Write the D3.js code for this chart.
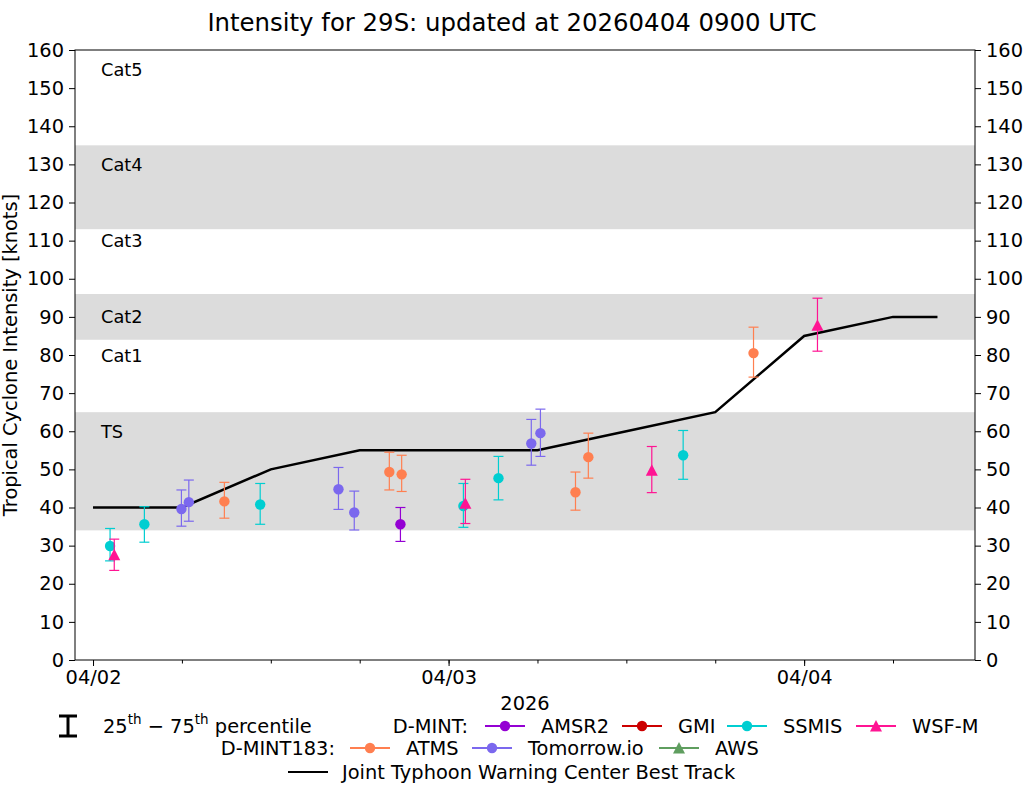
<!DOCTYPE html>
<html>
<head>
<meta charset="utf-8">
<script src="https://cdn.jsdelivr.net/npm/d3@7/dist/d3.min.js"></script>
<style>
  body { margin: 0; background: #fff; }
  svg text { font-family: "DejaVu Sans", sans-serif; fill: #000; }
</style>
</head>
<body>
<svg id="chart" width="1025" height="785"></svg>
<script>
// ---------------- DATA ----------------
const titleText = "Intensity for 29S: updated at 20260404 0900 UTC";
const yTicks = [0,10,20,30,40,50,60,70,80,90,100,110,120,130,140,150,160];
const xTickLabels = ["04/02", "04/03", "04/04"];
const xTickDates = ["2026-04-02T00:00Z", "2026-04-03T00:00Z", "2026-04-04T00:00Z"];

// intensity bands
const bandLo = [34, 65, 84, 96, 113, 135];
const bandHi = [65, 84, 96, 113, 135, 160];
const bandLabels = ["TS", "Cat1", "Cat2", "Cat3", "Cat4", "Cat5"];
const bandLabelAt = [60, 80, 90, 110, 130, 155];
const bandShaded = [true, false, true, false, true, false];

// Best track
const bestTrackTimes = ["2026-04-02T00:00Z","2026-04-02T06:00Z","2026-04-02T12:00Z","2026-04-02T18:00Z",
  "2026-04-03T00:00Z","2026-04-03T06:00Z","2026-04-03T12:00Z","2026-04-03T18:00Z",
  "2026-04-04T00:00Z","2026-04-04T06:00Z","2026-04-04T09:00Z"];
const bestTrackVmax = [40, 40, 50, 55, 55, 55, 60, 65, 85, 90, 90];

// Fix estimates: time, median, 25th, 75th
const amsr2Times = ["2026-04-02T20:45Z"];
const amsr2Vals  = [35.6];
const amsr2Lo    = [31.1];
const amsr2Hi    = [40.0];

const gmiTimes = [];
const gmiVals = [];
const gmiLo = [];
const gmiHi = [];

const ssmisTimes = ["2026-04-02T01:09Z","2026-04-02T03:28Z","2026-04-02T11:17Z","2026-04-03T01:00Z","2026-04-03T03:22Z","2026-04-03T15:50Z"];
const ssmisVals  = [29.9, 35.6, 40.8, 40.4, 47.7, 53.7];
const ssmisLo    = [26.0, 30.9, 35.6, 34.8, 42.0, 47.4];
const ssmisHi    = [34.5, 40.2, 46.3, 46.3, 53.4, 60.2];

const wsfmTimes = ["2026-04-02T01:26Z","2026-04-03T01:08Z","2026-04-03T13:43Z","2026-04-04T00:54Z"];
const wsfmVals  = [27.6, 41.1, 49.8, 87.8];
const wsfmLo    = [23.5, 35.8, 43.9, 81.0];
const wsfmHi    = [31.7, 47.4, 56.0, 94.9];

const atmsTimes = ["2026-04-02T08:52Z","2026-04-02T20:00Z","2026-04-02T20:50Z","2026-04-03T08:34Z","2026-04-03T09:26Z","2026-04-03T20:35Z"];
const atmsVals  = [41.6, 49.3, 48.7, 44.0, 53.2, 80.5];
const atmsLo    = [37.2, 44.6, 44.2, 39.3, 47.7, 74.2];
const atmsHi    = [46.6, 54.5, 53.7, 49.3, 59.5, 87.3];

const tmrwTimes = ["2026-04-02T05:58Z","2026-04-02T06:28Z","2026-04-02T16:34Z","2026-04-02T17:38Z","2026-04-03T05:35Z","2026-04-03T06:12Z"];
const tmrwVals  = [39.6, 41.4, 44.8, 38.7, 56.8, 59.5];
const tmrwLo    = [35.1, 36.4, 39.5, 34.1, 51.1, 53.4];
const tmrwHi    = [44.6, 47.2, 50.5, 44.3, 63.1, 65.8];

const awsTimes = [];
const awsVals = [];
const awsLo = [];
const awsHi = [];

// ---------------- SETUP ----------------
const svg = d3.select("#chart");
const M = {left: 75, right: 975, top: 50, bottom: 660};
const FS = 19.4;     // tick / legend / axis label font
const FSB = 17.8;    // band label font
const FST = 24.4;    // title font

const x = d3.scaleUtc()
  .domain([new Date("2026-04-01T22:47Z"), new Date("2026-04-04T11:32Z")])
  .range([M.left, M.right]);
const y = d3.scaleLinear().domain([0, 160]).range([M.bottom, M.top]);

const series = [
  {name: "AMSR2", color: "#9400D3", shape: "circle", t: amsr2Times, v: amsr2Vals, lo: amsr2Lo, hi: amsr2Hi},
  {name: "GMI", color: "#CC0000", shape: "circle", t: gmiTimes, v: gmiVals, lo: gmiLo, hi: gmiHi},
  {name: "SSMIS", color: "#00CED1", shape: "circle", t: ssmisTimes, v: ssmisVals, lo: ssmisLo, hi: ssmisHi},
  {name: "WSF-M", color: "#FF1493", shape: "triangle", t: wsfmTimes, v: wsfmVals, lo: wsfmLo, hi: wsfmHi},
  {name: "ATMS", color: "#FF7F50", shape: "circle", t: atmsTimes, v: atmsVals, lo: atmsLo, hi: atmsHi},
  {name: "Tomorrow.io", color: "#7B68EE", shape: "circle", t: tmrwTimes, v: tmrwVals, lo: tmrwLo, hi: tmrwHi},
  {name: "AWS", color: "#5F9E5F", shape: "triangle", t: awsTimes, v: awsVals, lo: awsLo, hi: awsHi}
];

// Bands
bandLo.forEach((lo, i) => {
  if (bandShaded[i]) {
    svg.append("rect")
      .attr("x", M.left).attr("width", M.right - M.left)
      .attr("y", y(bandHi[i])).attr("height", y(lo) - y(bandHi[i]))
      .attr("fill", "#DCDCDC");
  }
  svg.append("text")
    .attr("x", 101).attr("y", y(bandLabelAt[i]))
    .attr("dominant-baseline", "central")
    .attr("font-size", FSB)
    .text(bandLabels[i]);
});

// Best track
const line = d3.line().x(d => x(d.t)).y(d => y(d.v));
const btData = bestTrackTimes.map((t, i) => ({t: new Date(t), v: bestTrackVmax[i]}));
svg.append("path").datum(btData)
  .attr("d", line).attr("fill", "none").attr("stroke", "#000").attr("stroke-width", 2.5);

// Fix points
const triPath = "M0,-6 L6,5.5 L-6,5.5 Z";
series.forEach(s => {
  const data = s.t.map((t, i) => ({t: new Date(t), v: s.v[i], lo: s.lo[i], hi: s.hi[i]}));
  const g = svg.append("g");
  const eb = g.selectAll("g.eb").data(data).enter().append("g");
  eb.append("line").attr("x1", d => x(d.t)).attr("x2", d => x(d.t))
    .attr("y1", d => y(d.lo)).attr("y2", d => y(d.hi))
    .attr("stroke", s.color).attr("stroke-width", 1.2);
  eb.append("line").attr("x1", d => x(d.t) - 5).attr("x2", d => x(d.t) + 5)
    .attr("y1", d => y(d.lo)).attr("y2", d => y(d.lo))
    .attr("stroke", s.color).attr("stroke-width", 1.2);
  eb.append("line").attr("x1", d => x(d.t) - 5).attr("x2", d => x(d.t) + 5)
    .attr("y1", d => y(d.hi)).attr("y2", d => y(d.hi))
    .attr("stroke", s.color).attr("stroke-width", 1.2);
  if (s.shape === "circle") {
    g.selectAll("circle").data(data).enter().append("circle")
      .attr("cx", d => x(d.t)).attr("cy", d => y(d.v)).attr("r", 5.2).attr("fill", s.color);
  } else {
    g.selectAll("path.tri").data(data).enter().append("path")
      .attr("d", triPath)
      .attr("transform", d => `translate(${x(d.t)},${y(d.v)})`)
      .attr("fill", s.color);
  }
});

// Frame
svg.append("rect").attr("x", M.left).attr("y", M.top)
  .attr("width", M.right - M.left).attr("height", M.bottom - M.top)
  .attr("fill", "none").attr("stroke", "#000").attr("stroke-width", 1);

// Y axes
const yAxisL = d3.axisLeft(y).tickValues(yTicks).tickSize(6).tickPadding(5);
const yAxisR = d3.axisRight(y).tickValues(yTicks).tickSize(6).tickPadding(5);
const gl = svg.append("g").attr("transform", `translate(${M.left},0)`).call(yAxisL);
const gr = svg.append("g").attr("transform", `translate(${M.right},0)`).call(yAxisR);
[gl, gr].forEach(g => {
  g.select(".domain").remove();
  g.selectAll("text").attr("font-size", FS).attr("font-family", "DejaVu Sans").attr("fill", "#000");
  g.selectAll("line").attr("stroke", "#000");
});

// X axis
const xAxisMinor = d3.axisBottom(x).ticks(d3.utcHour.every(6)).tickSize(3.5).tickFormat("");
const gxm = svg.append("g").attr("transform", `translate(0,${M.bottom})`).call(xAxisMinor);
gxm.select(".domain").remove();
gxm.selectAll("line").attr("stroke", "#000");
const xMajor = xTickDates.map(d => new Date(d));
const xAxis = d3.axisBottom(x).tickValues(xMajor).tickSize(6).tickPadding(4)
  .tickFormat((d, i) => xTickLabels[i]);
const gx = svg.append("g").attr("transform", `translate(0,${M.bottom})`).call(xAxis);
gx.select(".domain").remove();
gx.selectAll("text").attr("font-size", FS).attr("font-family", "DejaVu Sans").attr("fill", "#000");
gx.selectAll("line").attr("stroke", "#000");

svg.append("text").attr("x", (M.left + M.right) / 2).attr("y", 703)
  .attr("dominant-baseline", "central")
  .attr("text-anchor", "middle").attr("font-size", FS).text("2026");

// Y label
svg.append("text")
  .attr("transform", `translate(17,${(M.top + M.bottom) / 2}) rotate(-90)`)
  .attr("text-anchor", "middle").attr("font-size", FS)
  .text("Tropical Cyclone Intensity [knots]");

// Title
svg.append("text").attr("x", 512).attr("y", 31)
  .attr("text-anchor", "middle").attr("font-size", FST).text(titleText);

// ---------------- LEGEND ----------------
const row1 = 726, row2 = 748, row3 = 772;
svg.append("line").attr("x1", 68).attr("x2", 68).attr("y1", 716).attr("y2", 736)
  .attr("stroke", "#000").attr("stroke-width", 3);
[716, 736].forEach(yy => svg.append("line").attr("x1", 59).attr("x2", 77)
  .attr("y1", yy).attr("y2", yy).attr("stroke", "#000").attr("stroke-width", 3));
const pct = svg.append("text").attr("x", 103).attr("y", row1).attr("dominant-baseline", "central")
  .attr("font-size", FS);
pct.append("tspan").text("25");
pct.append("tspan").attr("font-size", 13.5).attr("dy", -7).text("th");
pct.append("tspan").attr("dy", 7).text(" \u2212 75");
pct.append("tspan").attr("font-size", 13.5).attr("dy", -7).text("th");
pct.append("tspan").attr("dy", 7).text(" percentile");

function legText(xx, yy, t, anchor) {
  svg.append("text").attr("x", xx).attr("y", yy).attr("dominant-baseline", "central")
    .attr("text-anchor", anchor || "start").attr("font-size", FS).text(t);
}
function legEntry(xx, yy, s) {
  svg.append("line").attr("x1", xx).attr("x2", xx + 40).attr("y1", yy).attr("y2", yy)
    .attr("stroke", s.color).attr("stroke-width", 2);
  if (s.shape === "circle") {
    svg.append("circle").attr("cx", xx + 20).attr("cy", yy).attr("r", 5.2).attr("fill", s.color);
  } else {
    svg.append("path").attr("d", triPath).attr("transform", `translate(${xx + 20},${yy})`).attr("fill", s.color);
  }
  legText(xx + 56, yy, s.name);
}
legText(468, row1, "D-MINT:", "end");
const byName = {};
series.forEach(s => byName[s.name] = s);
legEntry(485, row1, byName["AMSR2"]);
legEntry(622, row1, byName["GMI"]);
legEntry(727, row1, byName["SSMIS"]);
legEntry(856, row1, byName["WSF-M"]);
legText(335, row2, "D-MINT183:", "end");
legEntry(350, row2, byName["ATMS"]);
legEntry(472, row2, byName["Tomorrow.io"]);
legEntry(659, row2, byName["AWS"]);
svg.append("line").attr("x1", 288).attr("x2", 328).attr("y1", row3).attr("y2", row3)
  .attr("stroke", "#000").attr("stroke-width", 2);
legText(342, row3, "Joint Typhoon Warning Center Best Track");
</script>
</body>
</html>
